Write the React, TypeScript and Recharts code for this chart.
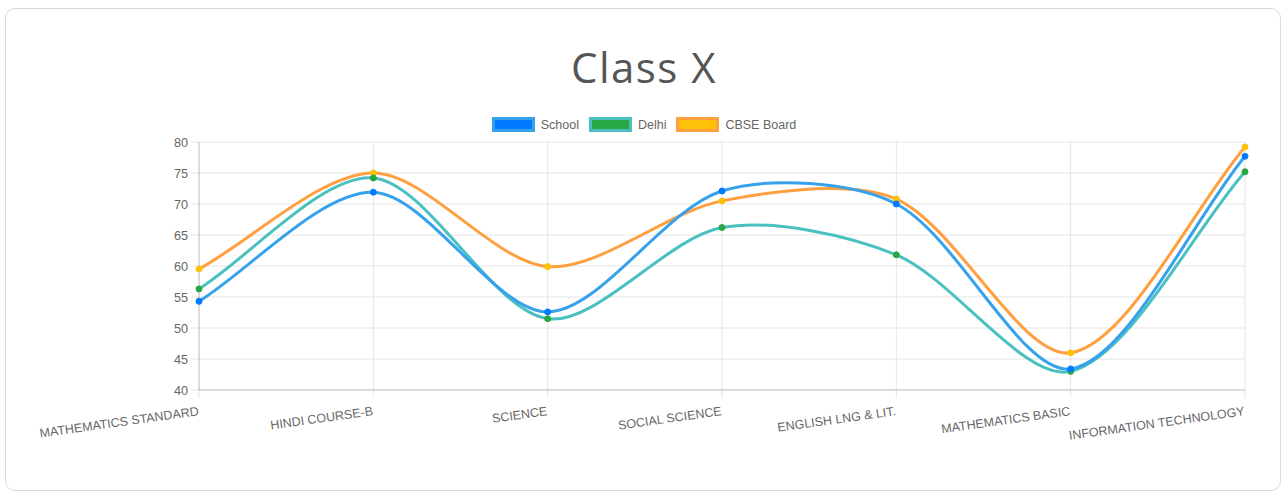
// @ts-nocheck
import { LineChart, Line, XAxis, YAxis, CartesianGrid, Legend } from 'recharts';

const subjects = [
  'MATHEMATICS STANDARD',
  'HINDI COURSE-B',
  'SCIENCE',
  'SOCIAL SCIENCE',
  'ENGLISH LNG & LIT.',
  'MATHEMATICS BASIC',
  'INFORMATION TECHNOLOGY',
];
const school = [54.3, 71.9, 52.6, 72.1, 70.0, 43.4, 77.7];
const delhi = [56.3, 74.2, 51.5, 66.2, 61.8, 43.0, 75.2];
const cbse = [59.5, 75.0, 59.9, 70.5, 70.8, 46.0, 79.2];
const yTicks = [40, 45, 50, 55, 60, 65, 70, 75, 80];

const series = [
  { key: 'school', name: 'School', line: '#36a2eb', point: '#007bff' },
  { key: 'delhi', name: 'Delhi', line: '#4bc0c0', point: '#28a745' },
  { key: 'cbse', name: 'CBSE Board', line: '#ff9f40', point: '#ffc107' },
];

const data = subjects.map((subject, i) => ({
  subject,
  school: school[i],
  delhi: delhi[i],
  cbse: cbse[i],
}));

const FONT = '"Liberation Sans", Arial, Helvetica, sans-serif';

// same bezier spline chart.js draws (tension based)
function splineCurve(tension) {
  return (context) => {
    let pts = [];
    return {
      areaStart() {},
      areaEnd() {},
      lineStart() {
        pts = [];
      },
      lineEnd() {
        const n = pts.length;
        if (!n) return;
        context.moveTo(pts[0][0], pts[0][1]);
        if (n === 1) return;
        const cps = pts.map((p, i) => {
          const prev = pts[i - 1] || p;
          const next = pts[i + 1] || p;
          const d01 = Math.hypot(p[0] - prev[0], p[1] - prev[1]);
          const d12 = Math.hypot(next[0] - p[0], next[1] - p[1]);
          let s01 = d01 / (d01 + d12);
          let s12 = d12 / (d01 + d12);
          if (isNaN(s01)) s01 = 0;
          if (isNaN(s12)) s12 = 0;
          const fa = tension * s01;
          const fb = tension * s12;
          return {
            prev: [p[0] - fa * (next[0] - prev[0]), p[1] - fa * (next[1] - prev[1])],
            next: [p[0] + fb * (next[0] - prev[0]), p[1] + fb * (next[1] - prev[1])],
          };
        });
        for (let i = 1; i < n; i++) {
          context.bezierCurveTo(
            cps[i - 1].next[0], cps[i - 1].next[1],
            cps[i].prev[0], cps[i].prev[1],
            pts[i][0], pts[i][1]
          );
        }
      },
      point(x, y) {
        pts.push([+x, +y]);
      },
    };
  };
}

const curve = splineCurve(0.3);

const XTick = ({ x, y, payload }) => (
  <text
    x={x - 2}
    y={y}
    dy={15}
    textAnchor="end"
    transform={`rotate(-8, ${x}, ${y})`}
    fill="#666"
    fontSize={12.5}
    fontFamily={FONT}
  >
    {payload.value}
  </text>
);

const LegendContent = () => (
  <div
    style={{
      display: 'flex',
      justifyContent: 'center',
      alignItems: 'center',
      fontFamily: FONT,
      fontSize: 12.5,
      color: '#666',
    }}
  >
    {series.map((s) => (
      <div key={s.key} style={{ display: 'flex', alignItems: 'center', margin: '0 5px' }}>
        <span
          style={{
            display: 'inline-block',
            width: 37,
            height: 9,
            border: `3px solid ${s.line}`,
            background: s.point,
            marginRight: 6,
          }}
        />
        <span>{s.name}</span>
      </div>
    ))}
  </div>
);

export default function App() {
  const drawOrder = [...series].reverse();
  return (
    <div style={{ position: 'absolute', left: 0, top: 0, width: 1282, height: 492, background: '#fff' }}>
      <div
        style={{
          position: 'absolute',
          left: 5,
          top: 8,
          width: 1274,
          height: 481,
          border: '1px solid #dadada',
          borderRadius: 10,
        }}
      />
      <div
        style={{
          position: 'absolute',
          left: 0,
          top: 46,
          width: 1288,
          textAlign: 'center',
          fontFamily: '"Open Sans", sans-serif',
          fontSize: 42,
          fontWeight: 500,
          letterSpacing: 1.5,
          lineHeight: '42px',
          color: '#555',
        }}
      >
        Class X
      </div>
      <div style={{ position: 'absolute', left: 0, top: 0 }}>
        <LineChart
          width={1282}
          height={492}
          data={data}
          margin={{ top: 142, right: 37, left: 139, bottom: 42 }}
        >
          <CartesianGrid stroke="rgba(0,0,0,0.1)" />
          <XAxis
            dataKey="subject"
            interval={0}
            height={60}
            tick={<XTick />}
            tickSize={8}
            tickLine={{ stroke: 'rgba(0,0,0,0.1)' }}
            axisLine={{ stroke: 'rgba(0,0,0,0.18)' }}
          />
          <YAxis
            width={60}
            domain={[40, 80]}
            ticks={yTicks}
            interval={0}
            tickSize={8}
            tickMargin={3}
            tick={{ fill: '#666', fontSize: 12.7, fontFamily: FONT }}
            tickLine={{ stroke: 'rgba(0,0,0,0.1)' }}
            axisLine={{ stroke: 'rgba(0,0,0,0.18)' }}
          />
          <Legend
            verticalAlign="middle"
            content={<LegendContent />}
            wrapperStyle={{ top: 117, left: 2, width: 1284 }}
          />
          {drawOrder.map((s) => (
            <Line
              key={s.key}
              dataKey={s.key}
              name={s.name}
              type={curve}
              stroke={s.line}
              strokeWidth={3}
              dot={{ r: 3, fill: s.point, stroke: s.point, strokeWidth: 1 }}
              activeDot={false}
              isAnimationActive={false}
            />
          ))}
        </LineChart>
      </div>
    </div>
  );
}
